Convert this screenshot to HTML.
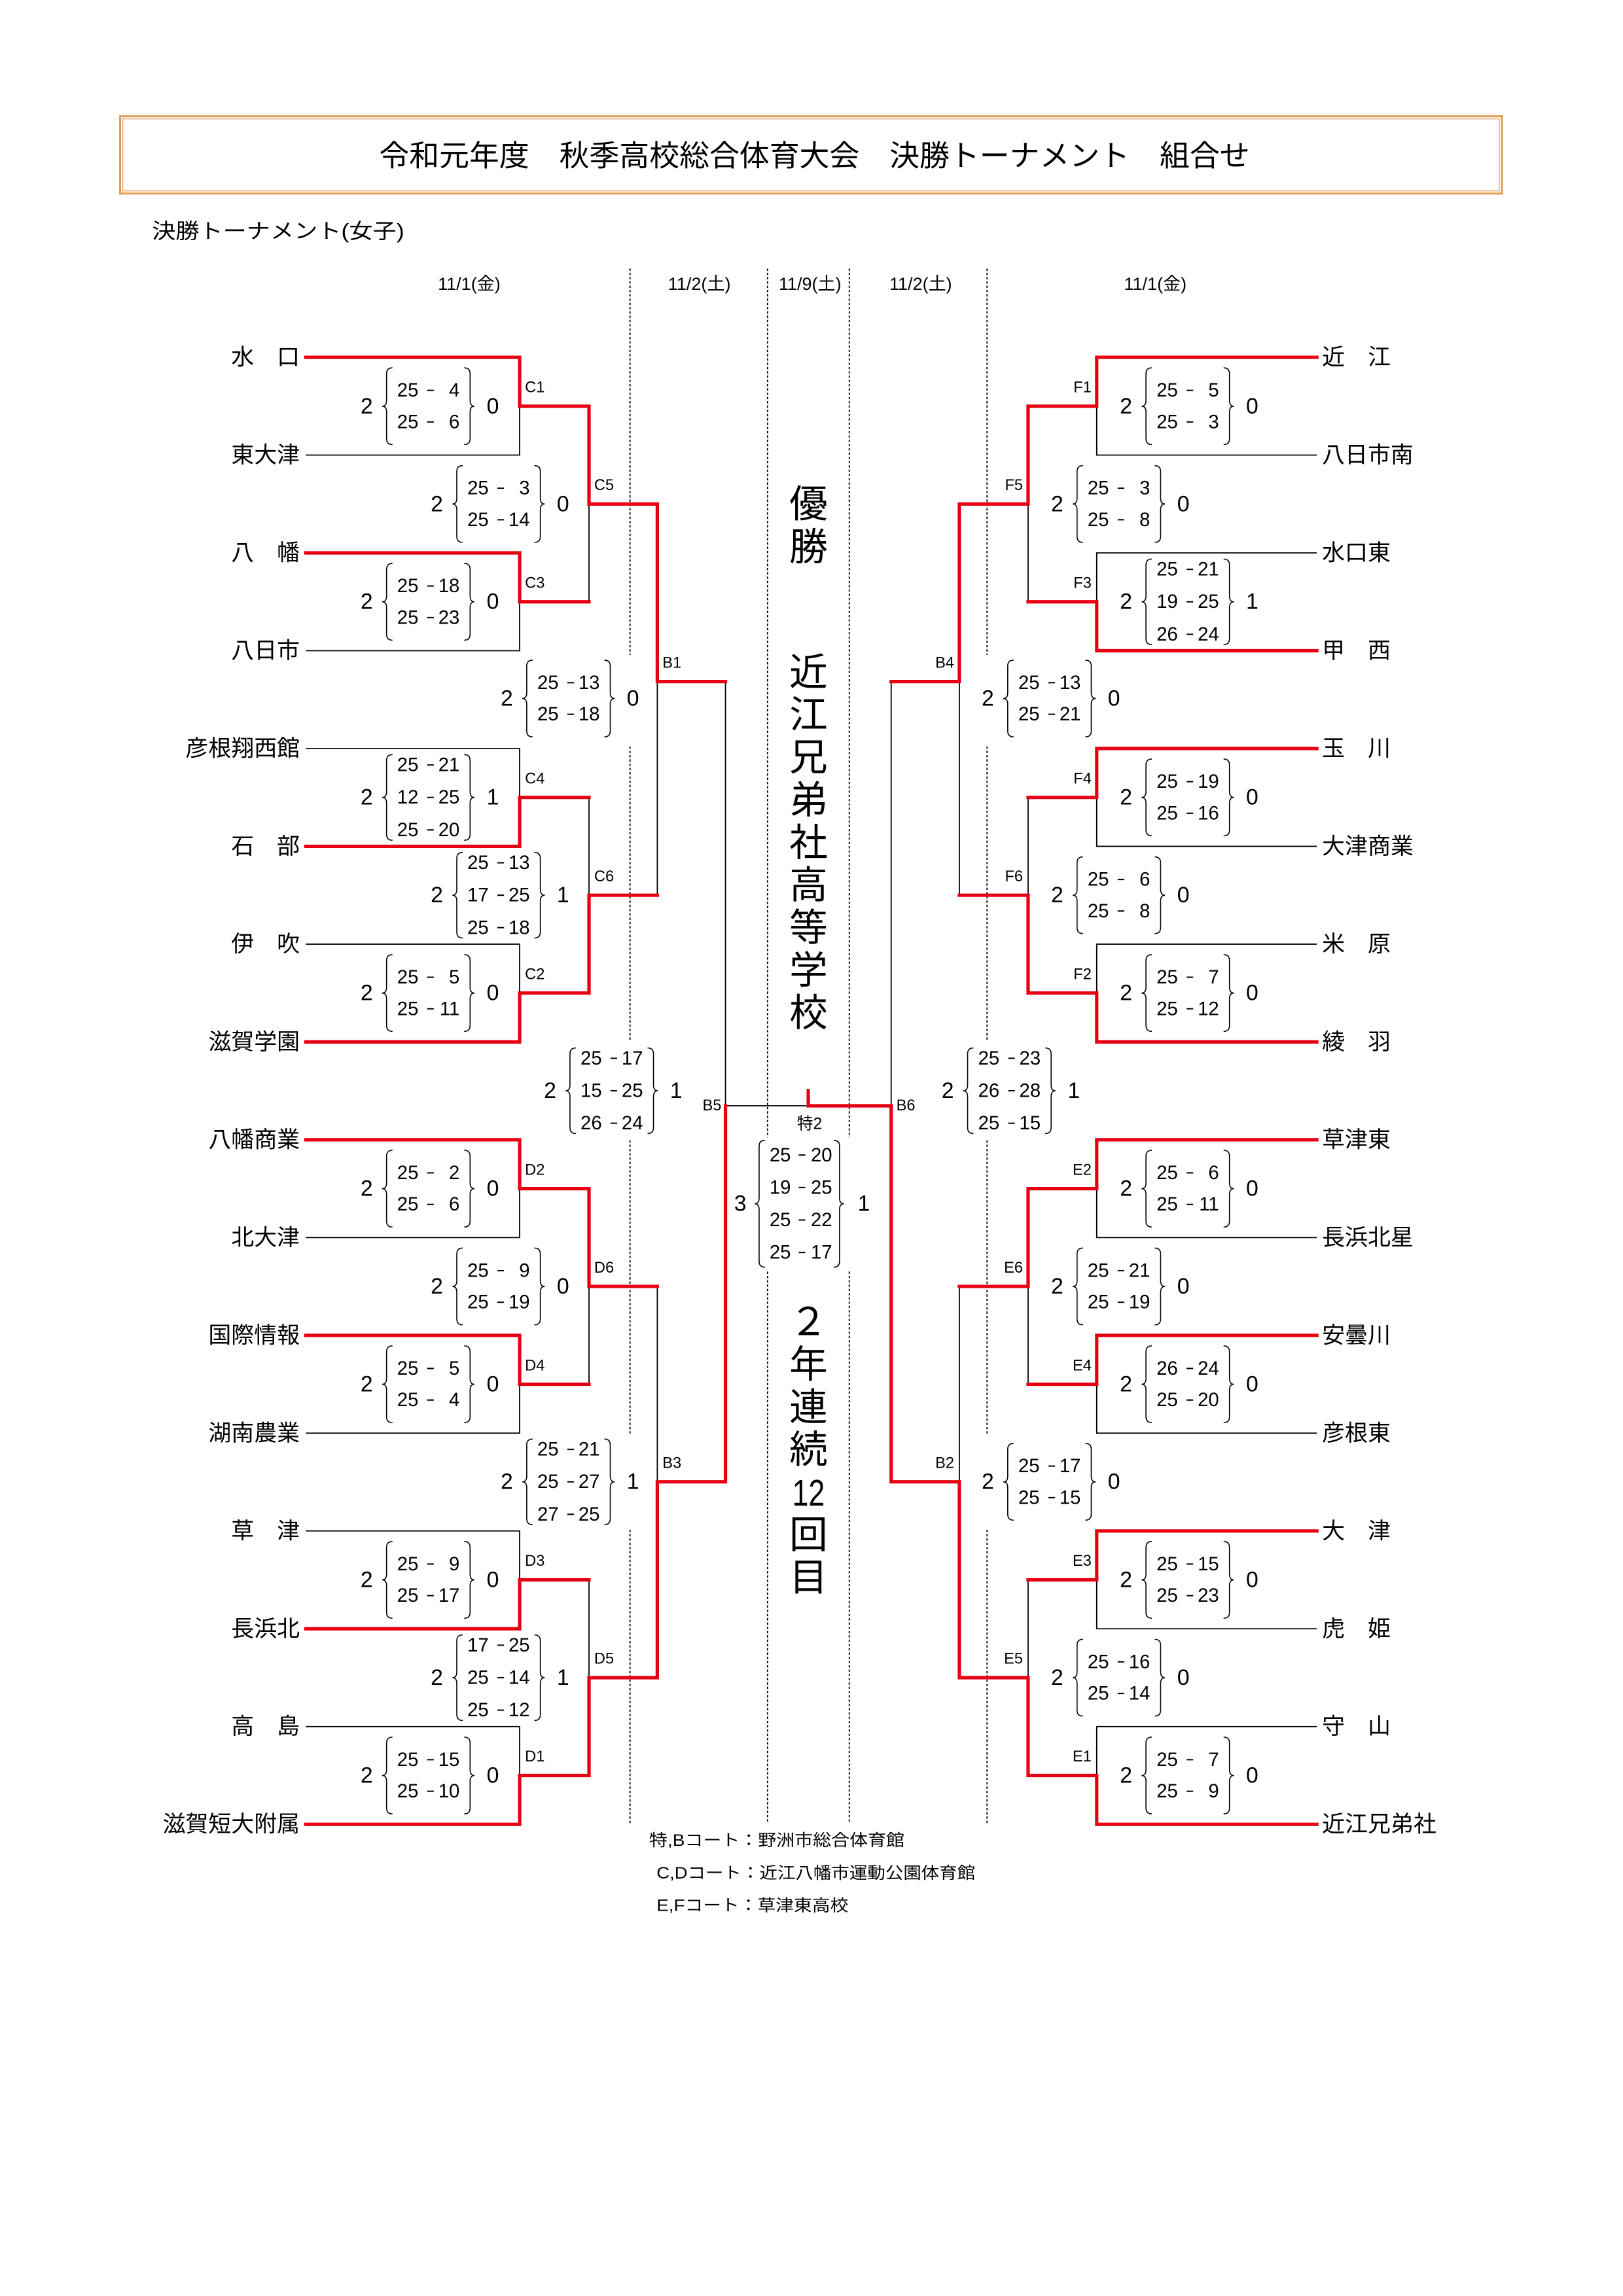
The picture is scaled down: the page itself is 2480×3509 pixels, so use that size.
<!DOCTYPE html>
<html><head><meta charset="utf-8"><style>
html,body{margin:0;padding:0;background:#fff;}
svg{display:block;}
text{font-family:"Liberation Sans","Noto Sans CJK JP",sans-serif;fill:#000;}
.nm{font-size:15.5px;dominant-baseline:central;}
.s{font-size:13px;dominant-baseline:central;text-anchor:end;}
.n{font-size:15px;dominant-baseline:central;text-anchor:middle;}
.lb{font-size:10.5px;dominant-baseline:central;}
.br{fill:none;stroke:#000;stroke-width:0.7;}
.ds{fill:none;stroke:#000;stroke-width:0.9;}
.bk{fill:none;stroke:#000;stroke-width:0.8;}
.rd{fill:none;stroke:#e60012;stroke-width:2.3;stroke-linejoin:miter;stroke-linecap:square;}
.dl{stroke:#000;stroke-width:0.8;stroke-dasharray:1.6 1.3;fill:none;}
.big{font-size:26px;text-anchor:middle;dominant-baseline:central;}
</style></head><body>
<svg width="2480" height="3509" viewBox="0 0 1100 1556.4" preserveAspectRatio="none" xmlns="http://www.w3.org/2000/svg">
<defs>
<path id="b2" class="br" d="M4,-26 Q0,-26 0,-22 V-4 Q0,0 -3,0 Q0,0 0,4 V22 Q0,26 4,26 M52.6,-26 Q56.6,-26 56.6,-22 V-4 Q56.6,0 59.6,0 Q56.6,0 56.6,4 V22 Q56.6,26 52.6,26"/>
<path id="b3" class="br" d="M4,-29 Q0,-29 0,-25 V-4 Q0,0 -3,0 Q0,0 0,4 V25 Q0,29 4,29 M52.6,-29 Q56.6,-29 56.6,-25 V-4 Q56.6,0 59.6,0 Q56.6,0 56.6,4 V25 Q56.6,29 52.6,29"/>
<path id="d2" class="ds" d="M27.5,-10.7H32M27.5,10.7H32"/>
<path id="d3" class="ds" d="M27.5,-22H32M27.5,0H32M27.5,22H32"/>
</defs>
<rect width="1100" height="1556.4" fill="#fff"/>
<!-- title -->
<rect x="81.4" y="78.8" width="936.6" height="52.4" fill="none" stroke="#e39a52" stroke-width="1.3"/>
<rect x="83.2" y="80.6" width="933" height="48.8" fill="none" stroke="#e6a868" stroke-width="0.6"/>
<text x="552" y="105.5" font-size="20" text-anchor="middle" dominant-baseline="central" textLength="590" lengthAdjust="spacingAndGlyphs">令和元年度　秋季高校総合体育大会　決勝トーナメント　組合せ</text>
<text x="103" y="156.5" font-size="14" dominant-baseline="central" textLength="171" lengthAdjust="spacingAndGlyphs">決勝トーナメント(女子)</text>
<!-- dates -->
<g font-size="12" text-anchor="middle" dominant-baseline="central">
<text x="318" y="192.5">11/1(金)</text>
<text x="474" y="192.5">11/2(土)</text>
<text x="549" y="192.5">11/9(土)</text>
<text x="624" y="192.5">11/2(土)</text>
<text x="783" y="192.5">11/1(金)</text>
</g>
<!-- dashed lines -->
<path class="dl" d="M427,182 V444 M427,506 V705 M427,773 V972 M427,1037 V1236"/>
<path class="dl" d="M520.2,182 V771 M520.2,862 V1236"/>
<path class="dl" d="M575.6,182 V771 M575.6,862 V1236"/>
<path class="dl" d="M669,182 V444 M669,506 V705 M669,773 V972 M669,1037 V1236"/>

<!-- LEFT bracket black -->
<path class="bk" d="M207.3,308.5H352.2V275.35 M207.3,441.1H352.2V407.95 M399.2,407.95V341.65 M207.3,507.4H352.2V540.55 M207.3,640H352.2V673.15 M399.2,540.55V606.85 M445.5,606.85V462 M207.3,838.9H352.2V805.75 M207.3,971.5H352.2V938.35 M399.2,938.35V872.05 M207.3,1037.8H352.2V1070.95 M207.3,1170.4H352.2V1203.55 M399.2,1070.95V1137.25 M445.5,872.05V1004.5 M491.7,462V749.6H547.8"/>
<!-- RIGHT bracket black -->
<path class="bk" d="M892.5,308.5H743.3V275.35 M892.5,374.8H743.3V407.95 M696.8,407.95V341.65 M892.5,573.7H743.3V540.55 M892.5,640H743.3V673.15 M696.8,540.55V606.85 M650.2,606.85V462 M892.5,838.9H743.3V805.75 M892.5,971.5H743.3V938.35 M696.8,938.35V872.05 M892.5,1104.1H743.3V1070.95 M892.5,1170.4H743.3V1203.55 M696.8,1070.95V1137.25 M650.2,872.05V1004.5 M604,462V749.6"/>
<!-- red -->
<path class="rd" d="M207.3,242.2H352.2V275.35H399.2V341.65H445.5V462H491.7"/>
<path class="rd" d="M207.3,374.8H352.2V407.95H399.2"/>
<path class="rd" d="M207.3,573.7H352.2V540.55H399.2"/>
<path class="rd" d="M207.3,706.3H352.2V673.15H399.2V606.85H445.5"/>
<path class="rd" d="M207.3,772.6H352.2V805.75H399.2V872.05H445.5"/>
<path class="rd" d="M207.3,905.2H352.2V938.35H399.2"/>
<path class="rd" d="M207.3,1104.1H352.2V1070.95H399.2"/>
<path class="rd" d="M207.3,1236.7H352.2V1203.55H399.2V1137.25H445.5V1004.5H491.7V749.6"/>
<path class="rd" d="M547.8,739.3V749.6H604V1004.5H650.2V1137.25H696.8V1203.55H743.3V1236.7H892.5"/>
<path class="rd" d="M892.5,242.2H743.3V275.35H696.8V341.65H650.2V462H604"/>
<path class="rd" d="M892.5,441.1H743.3V407.95H696.8"/>
<path class="rd" d="M892.5,507.4H743.3V540.55H696.8"/>
<path class="rd" d="M892.5,706.3H743.3V673.15H696.8V606.85H650.2"/>
<path class="rd" d="M892.5,772.6H743.3V805.75H696.8V872.05H650.2"/>
<path class="rd" d="M892.5,905.2H743.3V938.35H696.8"/>
<path class="rd" d="M892.5,1037.8H743.3V1070.95H696.8"/>

<!-- names left -->
<g class="nm" text-anchor="end">
<text x="203.2" y="242.2">水　口</text>
<text x="203.2" y="308.5">東大津</text>
<text x="203.2" y="374.8">八　幡</text>
<text x="203.2" y="441.1">八日市</text>
<text x="203.2" y="507.4">彦根翔西館</text>
<text x="203.2" y="573.7">石　部</text>
<text x="203.2" y="640">伊　吹</text>
<text x="203.2" y="706.3">滋賀学園</text>
<text x="203.2" y="772.6">八幡商業</text>
<text x="203.2" y="838.9">北大津</text>
<text x="203.2" y="905.2">国際情報</text>
<text x="203.2" y="971.5">湖南農業</text>
<text x="203.2" y="1037.8">草　津</text>
<text x="203.2" y="1104.1">長浜北</text>
<text x="203.2" y="1170.4">高　島</text>
<text x="203.2" y="1236.7">滋賀短大附属</text>
</g>
<g class="nm" text-anchor="start">
<text x="896" y="242.2">近　江</text>
<text x="896" y="308.5">八日市南</text>
<text x="896" y="374.8">水口東</text>
<text x="896" y="441.1">甲　西</text>
<text x="896" y="507.4">玉　川</text>
<text x="896" y="573.7">大津商業</text>
<text x="896" y="640">米　原</text>
<text x="896" y="706.3">綾　羽</text>
<text x="896" y="772.6">草津東</text>
<text x="896" y="838.9">長浜北星</text>
<text x="896" y="905.2">安曇川</text>
<text x="896" y="971.5">彦根東</text>
<text x="896" y="1037.8">大　津</text>
<text x="896" y="1104.1">虎　姫</text>
<text x="896" y="1170.4">守　山</text>
<text x="896" y="1236.7">近江兄弟社</text>
</g>

<!-- match labels -->
<g class="lb">
<text x="355.8" y="262.9">C1</text>
<text x="355.8" y="395.5">C3</text>
<text x="355.8" y="528">C4</text>
<text x="355.8" y="660.6">C2</text>
<text x="355.8" y="793.2">D2</text>
<text x="355.8" y="925.8">D4</text>
<text x="355.8" y="1058.4">D3</text>
<text x="355.8" y="1191">D1</text>
<text x="402.7" y="329.2">C5</text>
<text x="402.7" y="594.3">C6</text>
<text x="402.7" y="859.5">D6</text>
<text x="402.7" y="1124.7">D5</text>
<text x="449" y="449.5">B1</text>
<text x="449" y="992">B3</text>
<text x="607.5" y="749.6">B6</text>
</g>
<g class="lb" text-anchor="end">
<text x="489" y="749.6">B5</text>
<text x="739.8" y="262.9">F1</text>
<text x="739.8" y="395.5">F3</text>
<text x="739.8" y="528">F4</text>
<text x="739.8" y="660.6">F2</text>
<text x="739.8" y="793.2">E2</text>
<text x="739.8" y="925.8">E4</text>
<text x="739.8" y="1058.4">E3</text>
<text x="739.8" y="1191">E1</text>
<text x="693.3" y="329.2">F5</text>
<text x="693.3" y="594.3">F6</text>
<text x="693.3" y="859.5">E6</text>
<text x="693.3" y="1124.7">E5</text>
<text x="646.7" y="449.5">B4</text>
<text x="646.7" y="992">B2</text>
</g>
<text x="548.7" y="762" font-size="11" text-anchor="middle" dominant-baseline="central">特2</text>

<!-- score groups: LEFT r1 -->
<g transform="translate(262,275.35)"><use href="#b2"/><use href="#d2"/><text class="n" x="-13.5" y="0">2</text><text class="n" x="72" y="0">0</text><text class="s" x="21.6" y="-10.7">25</text><text class="s" x="49.5" y="-10.7">4</text><text class="s" x="21.6" y="10.7">25</text><text class="s" x="49.5" y="10.7">6</text></g>
<g transform="translate(262,407.95)"><use href="#b2"/><use href="#d2"/><text class="n" x="-13.5" y="0">2</text><text class="n" x="72" y="0">0</text><text class="s" x="21.6" y="-10.7">25</text><text class="s" x="49.5" y="-10.7">18</text><text class="s" x="21.6" y="10.7">25</text><text class="s" x="49.5" y="10.7">23</text></g>
<g transform="translate(262,540.55)"><use href="#b3"/><use href="#d3"/><text class="n" x="-13.5" y="0">2</text><text class="n" x="72" y="0">1</text><text class="s" x="21.6" y="-22">25</text><text class="s" x="49.5" y="-22">21</text><text class="s" x="21.6" y="0">12</text><text class="s" x="49.5" y="0">25</text><text class="s" x="21.6" y="22">25</text><text class="s" x="49.5" y="22">20</text></g>
<g transform="translate(262,673.15)"><use href="#b2"/><use href="#d2"/><text class="n" x="-13.5" y="0">2</text><text class="n" x="72" y="0">0</text><text class="s" x="21.6" y="-10.7">25</text><text class="s" x="49.5" y="-10.7">5</text><text class="s" x="21.6" y="10.7">25</text><text class="s" x="49.5" y="10.7">11</text></g>
<g transform="translate(262,805.75)"><use href="#b2"/><use href="#d2"/><text class="n" x="-13.5" y="0">2</text><text class="n" x="72" y="0">0</text><text class="s" x="21.6" y="-10.7">25</text><text class="s" x="49.5" y="-10.7">2</text><text class="s" x="21.6" y="10.7">25</text><text class="s" x="49.5" y="10.7">6</text></g>
<g transform="translate(262,938.35)"><use href="#b2"/><use href="#d2"/><text class="n" x="-13.5" y="0">2</text><text class="n" x="72" y="0">0</text><text class="s" x="21.6" y="-10.7">25</text><text class="s" x="49.5" y="-10.7">5</text><text class="s" x="21.6" y="10.7">25</text><text class="s" x="49.5" y="10.7">4</text></g>
<g transform="translate(262,1070.95)"><use href="#b2"/><use href="#d2"/><text class="n" x="-13.5" y="0">2</text><text class="n" x="72" y="0">0</text><text class="s" x="21.6" y="-10.7">25</text><text class="s" x="49.5" y="-10.7">9</text><text class="s" x="21.6" y="10.7">25</text><text class="s" x="49.5" y="10.7">17</text></g>
<g transform="translate(262,1203.55)"><use href="#b2"/><use href="#d2"/><text class="n" x="-13.5" y="0">2</text><text class="n" x="72" y="0">0</text><text class="s" x="21.6" y="-10.7">25</text><text class="s" x="49.5" y="-10.7">15</text><text class="s" x="21.6" y="10.7">25</text><text class="s" x="49.5" y="10.7">10</text></g>
<!-- LEFT r2 -->
<g transform="translate(309.6,341.65)"><use href="#b2"/><use href="#d2"/><text class="n" x="-13.5" y="0">2</text><text class="n" x="72" y="0">0</text><text class="s" x="21.6" y="-10.7">25</text><text class="s" x="49.5" y="-10.7">3</text><text class="s" x="21.6" y="10.7">25</text><text class="s" x="49.5" y="10.7">14</text></g>
<g transform="translate(309.6,606.85)"><use href="#b3"/><use href="#d3"/><text class="n" x="-13.5" y="0">2</text><text class="n" x="72" y="0">1</text><text class="s" x="21.6" y="-22">25</text><text class="s" x="49.5" y="-22">13</text><text class="s" x="21.6" y="0">17</text><text class="s" x="49.5" y="0">25</text><text class="s" x="21.6" y="22">25</text><text class="s" x="49.5" y="22">18</text></g>
<g transform="translate(309.6,872.05)"><use href="#b2"/><use href="#d2"/><text class="n" x="-13.5" y="0">2</text><text class="n" x="72" y="0">0</text><text class="s" x="21.6" y="-10.7">25</text><text class="s" x="49.5" y="-10.7">9</text><text class="s" x="21.6" y="10.7">25</text><text class="s" x="49.5" y="10.7">19</text></g>
<g transform="translate(309.6,1137.25)"><use href="#b3"/><use href="#d3"/><text class="n" x="-13.5" y="0">2</text><text class="n" x="72" y="0">1</text><text class="s" x="21.6" y="-22">17</text><text class="s" x="49.5" y="-22">25</text><text class="s" x="21.6" y="0">25</text><text class="s" x="49.5" y="0">14</text><text class="s" x="21.6" y="22">25</text><text class="s" x="49.5" y="22">12</text></g>
<!-- LEFT r3 -->
<g transform="translate(357,473.5)"><use href="#b2"/><use href="#d2"/><text class="n" x="-13.5" y="0">2</text><text class="n" x="72" y="0">0</text><text class="s" x="21.6" y="-10.7">25</text><text class="s" x="49.5" y="-10.7">13</text><text class="s" x="21.6" y="10.7">25</text><text class="s" x="49.5" y="10.7">18</text></g>
<g transform="translate(357,1004.5)"><use href="#b3"/><use href="#d3"/><text class="n" x="-13.5" y="0">2</text><text class="n" x="72" y="0">1</text><text class="s" x="21.6" y="-22">25</text><text class="s" x="49.5" y="-22">21</text><text class="s" x="21.6" y="0">25</text><text class="s" x="49.5" y="0">27</text><text class="s" x="21.6" y="22">27</text><text class="s" x="49.5" y="22">25</text></g>
<g transform="translate(386.3,739.4)"><use href="#b3"/><use href="#d3"/><text class="n" x="-13.5" y="0">2</text><text class="n" x="72" y="0">1</text><text class="s" x="21.6" y="-22">25</text><text class="s" x="49.5" y="-22">17</text><text class="s" x="21.6" y="0">15</text><text class="s" x="49.5" y="0">25</text><text class="s" x="21.6" y="22">26</text><text class="s" x="49.5" y="22">24</text></g>
<!-- RIGHT r1 -->
<g transform="translate(776.7,275.35)"><use href="#b2"/><use href="#d2"/><text class="n" x="-13.5" y="0">2</text><text class="n" x="72" y="0">0</text><text class="s" x="21.6" y="-10.7">25</text><text class="s" x="49.5" y="-10.7">5</text><text class="s" x="21.6" y="10.7">25</text><text class="s" x="49.5" y="10.7">3</text></g>
<g transform="translate(776.7,407.95)"><use href="#b3"/><use href="#d3"/><text class="n" x="-13.5" y="0">2</text><text class="n" x="72" y="0">1</text><text class="s" x="21.6" y="-22">25</text><text class="s" x="49.5" y="-22">21</text><text class="s" x="21.6" y="0">19</text><text class="s" x="49.5" y="0">25</text><text class="s" x="21.6" y="22">26</text><text class="s" x="49.5" y="22">24</text></g>
<g transform="translate(776.7,540.55)"><use href="#b2"/><use href="#d2"/><text class="n" x="-13.5" y="0">2</text><text class="n" x="72" y="0">0</text><text class="s" x="21.6" y="-10.7">25</text><text class="s" x="49.5" y="-10.7">19</text><text class="s" x="21.6" y="10.7">25</text><text class="s" x="49.5" y="10.7">16</text></g>
<g transform="translate(776.7,673.15)"><use href="#b2"/><use href="#d2"/><text class="n" x="-13.5" y="0">2</text><text class="n" x="72" y="0">0</text><text class="s" x="21.6" y="-10.7">25</text><text class="s" x="49.5" y="-10.7">7</text><text class="s" x="21.6" y="10.7">25</text><text class="s" x="49.5" y="10.7">12</text></g>
<g transform="translate(776.7,805.75)"><use href="#b2"/><use href="#d2"/><text class="n" x="-13.5" y="0">2</text><text class="n" x="72" y="0">0</text><text class="s" x="21.6" y="-10.7">25</text><text class="s" x="49.5" y="-10.7">6</text><text class="s" x="21.6" y="10.7">25</text><text class="s" x="49.5" y="10.7">11</text></g>
<g transform="translate(776.7,938.35)"><use href="#b2"/><use href="#d2"/><text class="n" x="-13.5" y="0">2</text><text class="n" x="72" y="0">0</text><text class="s" x="21.6" y="-10.7">26</text><text class="s" x="49.5" y="-10.7">24</text><text class="s" x="21.6" y="10.7">25</text><text class="s" x="49.5" y="10.7">20</text></g>
<g transform="translate(776.7,1070.95)"><use href="#b2"/><use href="#d2"/><text class="n" x="-13.5" y="0">2</text><text class="n" x="72" y="0">0</text><text class="s" x="21.6" y="-10.7">25</text><text class="s" x="49.5" y="-10.7">15</text><text class="s" x="21.6" y="10.7">25</text><text class="s" x="49.5" y="10.7">23</text></g>
<g transform="translate(776.7,1203.55)"><use href="#b2"/><use href="#d2"/><text class="n" x="-13.5" y="0">2</text><text class="n" x="72" y="0">0</text><text class="s" x="21.6" y="-10.7">25</text><text class="s" x="49.5" y="-10.7">7</text><text class="s" x="21.6" y="10.7">25</text><text class="s" x="49.5" y="10.7">9</text></g>
<!-- RIGHT r2 -->
<g transform="translate(730,341.65)"><use href="#b2"/><use href="#d2"/><text class="n" x="-13.5" y="0">2</text><text class="n" x="72" y="0">0</text><text class="s" x="21.6" y="-10.7">25</text><text class="s" x="49.5" y="-10.7">3</text><text class="s" x="21.6" y="10.7">25</text><text class="s" x="49.5" y="10.7">8</text></g>
<g transform="translate(730,606.85)"><use href="#b2"/><use href="#d2"/><text class="n" x="-13.5" y="0">2</text><text class="n" x="72" y="0">0</text><text class="s" x="21.6" y="-10.7">25</text><text class="s" x="49.5" y="-10.7">6</text><text class="s" x="21.6" y="10.7">25</text><text class="s" x="49.5" y="10.7">8</text></g>
<g transform="translate(730,872.05)"><use href="#b2"/><use href="#d2"/><text class="n" x="-13.5" y="0">2</text><text class="n" x="72" y="0">0</text><text class="s" x="21.6" y="-10.7">25</text><text class="s" x="49.5" y="-10.7">21</text><text class="s" x="21.6" y="10.7">25</text><text class="s" x="49.5" y="10.7">19</text></g>
<g transform="translate(730,1137.25)"><use href="#b2"/><use href="#d2"/><text class="n" x="-13.5" y="0">2</text><text class="n" x="72" y="0">0</text><text class="s" x="21.6" y="-10.7">25</text><text class="s" x="49.5" y="-10.7">16</text><text class="s" x="21.6" y="10.7">25</text><text class="s" x="49.5" y="10.7">14</text></g>
<!-- RIGHT r3 -->
<g transform="translate(683,473.5)"><use href="#b2"/><use href="#d2"/><text class="n" x="-13.5" y="0">2</text><text class="n" x="72" y="0">0</text><text class="s" x="21.6" y="-10.7">25</text><text class="s" x="49.5" y="-10.7">13</text><text class="s" x="21.6" y="10.7">25</text><text class="s" x="49.5" y="10.7">21</text></g>
<g transform="translate(683,1004.5)"><use href="#b2"/><use href="#d2"/><text class="n" x="-13.5" y="0">2</text><text class="n" x="72" y="0">0</text><text class="s" x="21.6" y="-10.7">25</text><text class="s" x="49.5" y="-10.7">17</text><text class="s" x="21.6" y="10.7">25</text><text class="s" x="49.5" y="10.7">15</text></g>
<g transform="translate(655.8,739.4)"><use href="#b3"/><use href="#d3"/><text class="n" x="-13.5" y="0">2</text><text class="n" x="72" y="0">1</text><text class="s" x="21.6" y="-22">25</text><text class="s" x="49.5" y="-22">23</text><text class="s" x="21.6" y="0">26</text><text class="s" x="49.5" y="0">28</text><text class="s" x="21.6" y="22">25</text><text class="s" x="49.5" y="22">15</text></g>
<!-- FINAL -->
<g transform="translate(514.5,816)">
<path class="br" d="M4,-43 Q0,-43 0,-39 V-4 Q0,0 -3,0 Q0,0 0,4 V39 Q0,43 4,43 M50.5,-43 Q54.5,-43 54.5,-39 V-4 Q54.5,0 57.5,0 Q54.5,0 54.5,4 V39 Q54.5,43 50.5,43"/>
<path class="ds" d="M26.8,-33H31.3M26.8,-11H31.3M26.8,11H31.3M26.8,33H31.3"/>
<text class="n" x="-12.8" y="0">3</text><text class="n" x="71" y="0">1</text>
<text class="s" x="21.5" y="-33">25</text><text class="s" x="49.5" y="-33">20</text>
<text class="s" x="21.5" y="-11">19</text><text class="s" x="49.5" y="-11">25</text>
<text class="s" x="21.5" y="11">25</text><text class="s" x="49.5" y="11">22</text>
<text class="s" x="21.5" y="33">25</text><text class="s" x="49.5" y="33">17</text>
</g>

<!-- big vertical text -->
<g class="big">
<text x="548" y="342">優</text>
<text x="548" y="371">勝</text>
<text x="548" y="456">近</text>
<text x="548" y="484.9">江</text>
<text x="548" y="513.7">兄</text>
<text x="548" y="542.6">弟</text>
<text x="548" y="571.4">社</text>
<text x="548" y="600.3">高</text>
<text x="548" y="629.1">等</text>
<text x="548" y="658">学</text>
<text x="548" y="686.8">校</text>
<text x="548" y="896.5">２</text>
<text x="548" y="925.3">年</text>
<text x="548" y="954.2">連</text>
<text x="548" y="983">続</text>
<text x="548" y="1011.9" font-size="25" textLength="22" lengthAdjust="spacingAndGlyphs">12</text>
<text x="548" y="1040.7">回</text>
<text x="548" y="1069.6">目</text>
</g>

<!-- footer -->
<g font-size="11" dominant-baseline="central">
<text x="440" y="1248" textLength="173" lengthAdjust="spacingAndGlyphs">特,Bコート：野洲市総合体育館</text>
<text x="445" y="1270" textLength="216" lengthAdjust="spacingAndGlyphs">C,Dコート：近江八幡市運動公園体育館</text>
<text x="445" y="1292" textLength="130" lengthAdjust="spacingAndGlyphs">E,Fコート：草津東高校</text>
</g>
</svg>
</body></html>
